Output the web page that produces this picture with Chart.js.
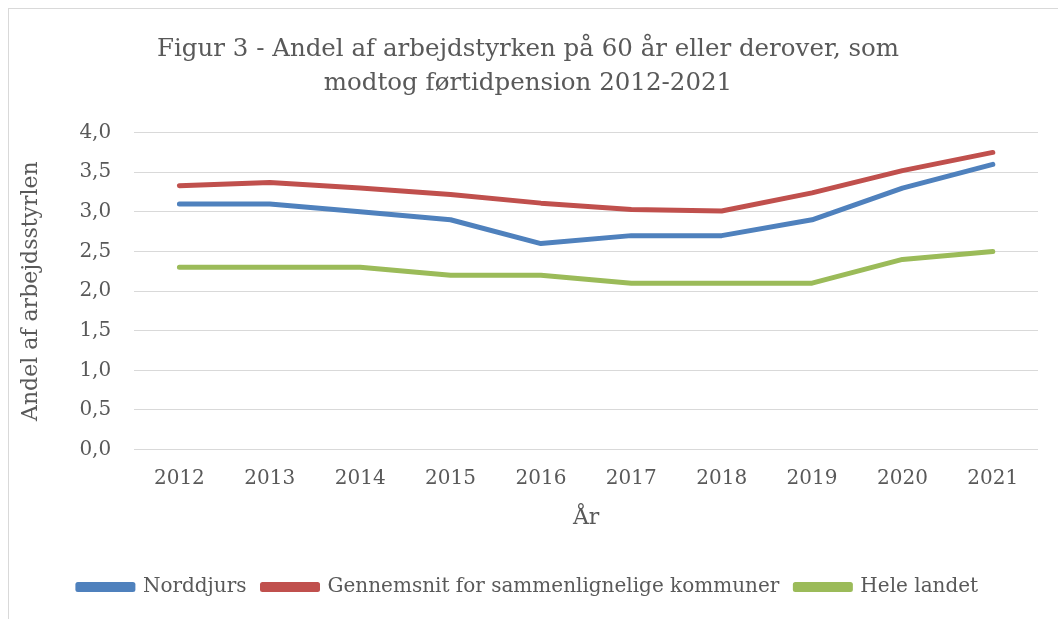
<!DOCTYPE html>
<html>
<head>
<meta charset="utf-8">
<script src="https://cdn.jsdelivr.net/npm/chart.js@4"></script>
<style>
  html, body { margin: 0; padding: 0; background: #fff; overflow: hidden; }
  #wrap { position: relative; width: 1058px; height: 619px; }
  #frame { position: absolute; left: 8px; top: 8px; width: 1200px; height: 800px; border: 1px solid #d9d9d9; }
  canvas { position: absolute; left: 0; top: 0; }
</style>
</head>
<body>
<div id="wrap">
  <div id="frame"></div>
  <canvas id="grafico" width="1058" height="619"></canvas>
</div>
<script>
const aar = ['2012', '2013', '2014', '2015', '2016', '2017', '2018', '2019', '2020', '2021'];
const norddjurs = [3.1, 3.1, 3.0, 2.9, 2.6, 2.7, 2.7, 2.9, 3.3, 3.6];
const gennemsnit = [3.33, 3.37, 3.30, 3.22, 3.11, 3.03, 3.01, 3.24, 3.52, 3.75];
const heleLandet = [2.3, 2.3, 2.3, 2.2, 2.2, 2.1, 2.1, 2.1, 2.4, 2.5];

const tekstFarve = '#595959';
const skrift = 'DejaVu Serif';

function serie(label, data, farve) {
    return {
        label: label,
        data: data,
        borderColor: farve,
        backgroundColor: farve,
        borderWidth: 5,
        pointRadius: 0,
        tension: 0,
        borderCapStyle: 'round',
        borderJoinStyle: 'round'
    };
}

const ctx = document.getElementById('grafico').getContext('2d');
new Chart(ctx, {
    type: 'line',
    data: {
        labels: aar,
        datasets: [
            serie('Norddjurs', norddjurs, '#4f81bd'),
            serie('Gennemsnit for sammenlignelige kommuner', gennemsnit, '#c0504d'),
            serie('Hele landet', heleLandet, '#9bbb59')
        ]
    },
    options: {
        responsive: false,
        animation: false,
        layout: { padding: { left: 18, right: 20, top: 32, bottom: 12 } },
        plugins: {
            title: {
                display: true,
                text: ['Figur 3 - Andel af arbejdstyrken på 60 år eller derover, som', 'modtog førtidpension 2012-2021'],
                color: tekstFarve,
                font: { family: skrift, size: 24.5, weight: 'normal', lineHeight: 1.4 },
                padding: { top: 0, bottom: 32 }
            },
            legend: {
                position: 'bottom',
                labels: {
                    color: tekstFarve,
                    font: { family: skrift, size: 20 },
                    boxWidth: 55,
                    boxHeight: 5,
                    padding: 16
                }
            },
            tooltip: { enabled: false }
        },
        scales: {
            x: {
                offset: true,
                grid: { display: false },
                border: { display: false },
                ticks: { color: tekstFarve, font: { family: skrift, size: 20 }, padding: 9 },
                title: {
                    display: true,
                    text: 'År',
                    color: tekstFarve,
                    font: { family: skrift, size: 22 },
                    padding: { top: 5, bottom: 30 }
                }
            },
            y: {
                min: 0,
                max: 4,
                grid: { color: '#d9d9d9', lineWidth: 1, drawTicks: false },
                border: { display: false },
                ticks: {
                    stepSize: 0.5,
                    color: tekstFarve,
                    font: { family: skrift, size: 20 },
                    padding: 23,
                    callback: (value) => value.toFixed(1).replace('.', ',')
                },
                title: {
                    display: true,
                    text: 'Andel af arbejdsstyrlen',
                    color: tekstFarve,
                    font: { family: skrift, size: 22 },
                    padding: { top: 0, bottom: 12 }
                }
            }
        }
    }
});
</script>
</body>
</html>
